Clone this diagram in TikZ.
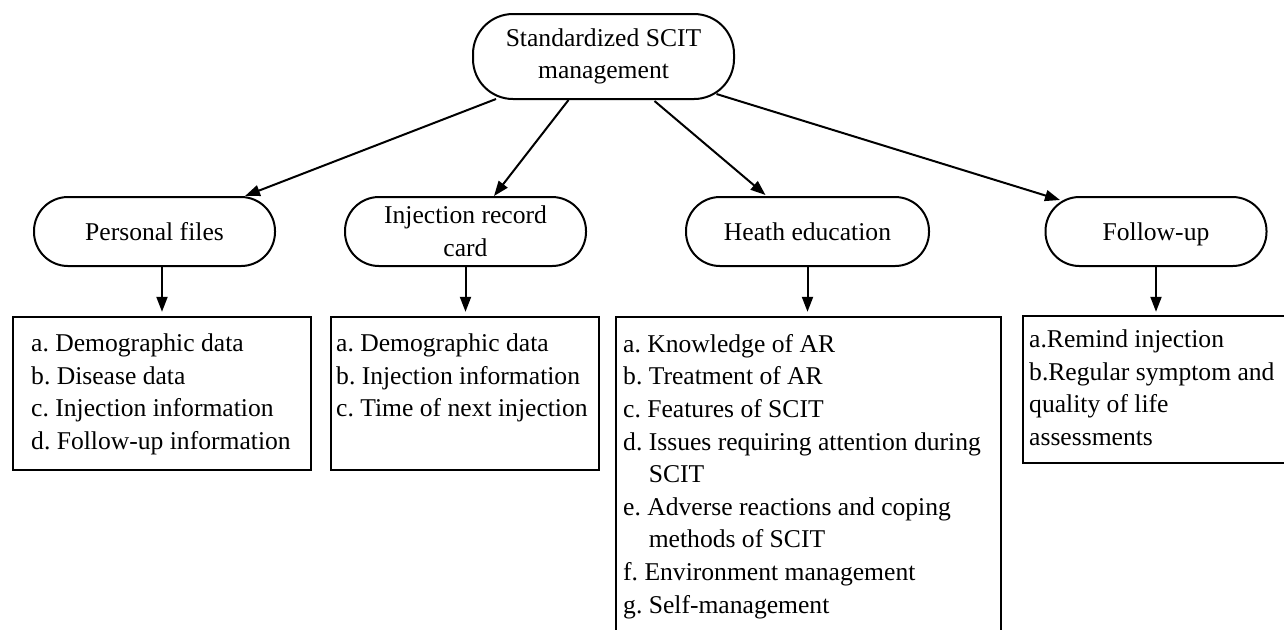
\documentclass[tikz,border=0pt]{standalone}
\usepackage{fontspec}
\setmainfont{Liberation Serif}
\usetikzlibrary{arrows.meta,calc}
\frenchspacing
\begin{document}
\begin{tikzpicture}[x=0.5pt,y=-0.5pt,
  every node/.style={font=\fontsize{12.8pt}{16.3pt}\selectfont},
  pill/.style={draw,line width=1pt,rounded corners=17pt,inner sep=0pt,align=center},
  oneline/.style={text height=8.8pt,text depth=0pt},
  listbox/.style={draw,line width=1.2pt,inner sep=0pt},
  listtext/.style={anchor=north west,inner sep=0pt,align=left},
  arr/.style={line width=1pt,-{Triangle[length=7.5pt,width=5.5pt]}}]
\useasboundingbox (0,0) rectangle (1284,629);
\clip (0,0) rectangle (1284,629);
% top node
\node[pill,minimum width=130.5pt,minimum height=42.5pt,rounded corners=20pt] (top) at (603.5,56.5)
  {Standardized SCIT\\management};
% second level
\node[pill,oneline,minimum width=120.5pt,minimum height=34.5pt] (pf) at (154.5,231.5) {Personal files};
\node[pill,minimum width=120.5pt,minimum height=34.5pt] (irc) at (465.5,231.5) {Injection record\\card};
\node[pill,oneline,minimum width=121.5pt,minimum height=34.5pt] (he) at (807.5,231.5) {Heath education};
\node[pill,oneline,minimum width=110.5pt,minimum height=34.5pt] (fu) at (1156,231.5) {Follow-up};
% boxes
\node[listbox,minimum width=149pt,minimum height=76.5pt] (b1) at (162,393.5) {};
\node[listbox,minimum width=134pt,minimum height=76.5pt] (b2) at (465,393.5) {};
\node[listbox,minimum width=192.5pt,minimum height=171.5pt] (b3) at (808.5,488.5) {};
\node[listbox,minimum width=143.5pt,minimum height=73.5pt] (b4) at (1166.5,389.5) {};
% texts
\node[listtext] (t1) at ($(b1.north west)+(19,17.5)$)
  {a. Demographic data\\b. Disease data\\c. Injection information\\d. Follow-up information};
\node[listtext] (t2) at ($(b2.north west)+(6,17.5)$)
  {a. Demographic data\\b. Injection information\\c. Time of next injection};
\node[listtext] (t3) at ($(b3.north west)+(8,18)$)
  {a. Knowledge of AR\\b. Treatment of AR\\c. Features of SCIT\\d. Issues requiring attention during\\\hspace*{1em}SCIT\\e. Adverse reactions and coping\\\hspace*{1em}methods of SCIT\\f. Environment management\\g. Self-management};
\node[listtext] (t4) at ($(b4.north west)+(7,14.5)$)
  {a.Remind injection\\b.Regular symptom and\\quality of life\\assessments};
% arrows from top
\draw[arr] ($(top.south)+(-107.5,-1)$) -- ($(pf.north)+(90.5,0)$);
\draw[arr] ($(top.south)+(-35,0)$) -- ($(irc.north)+(28.5,0)$);
\draw[arr] ($(top.south)+(51,1)$) -- ($(he.north)+(-42,-1)$);
\draw[arr] ($(top.south)+(113,-6)$) -- ($(fu.north)+(-96,4)$);
% vertical arrows
\draw[arr] (pf.south -| b1.north) -- ($(b1.north)+(0,-4)$);
\draw[arr] (irc.south) -- ($(irc.south |- b2.north)+(0,-4)$);
\draw[arr] (he.south) -- ($(he.south |- b3.north)+(0,-4)$);
\draw[arr] (fu.south) -- ($(fu.south |- b4.north)+(0,-3)$);
\end{tikzpicture}
\end{document}
